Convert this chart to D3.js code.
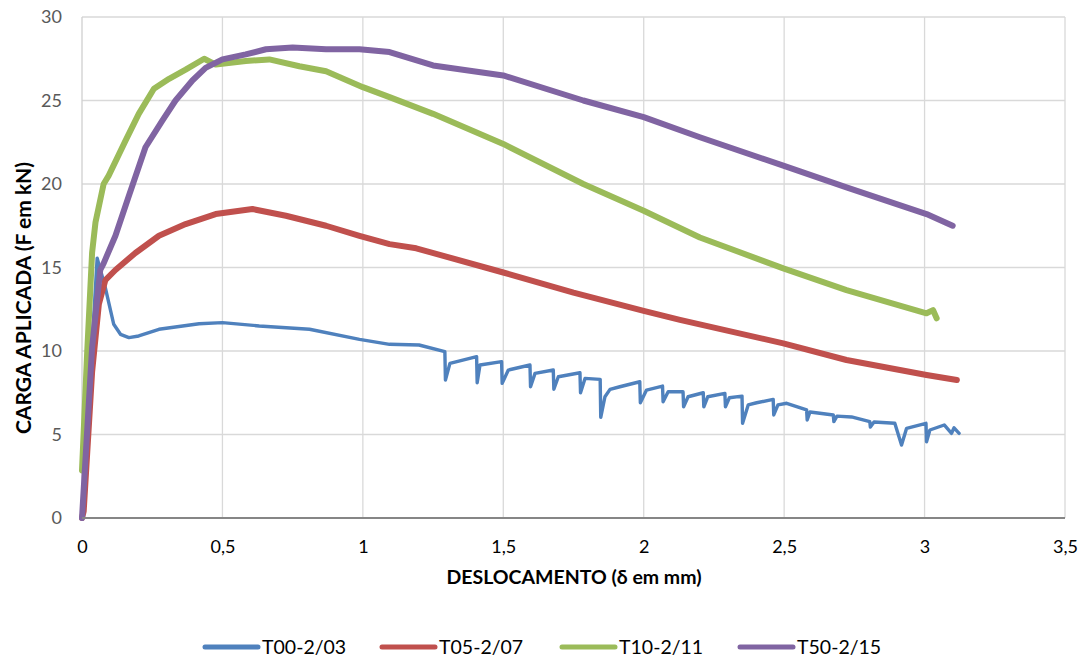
<!DOCTYPE html>
<html>
<head>
<meta charset="utf-8">
<script src="https://cdn.jsdelivr.net/npm/d3@7"></script>
<style>
  html, body { margin: 0; padding: 0; background: #fff; }
  svg { display: block; font-family: Lato, "Open Sans", sans-serif; }
</style>
</head>
<body>
<svg id="chart" width="1083" height="660"></svg>
<script>
// ---- data ----
const seriesNames = ["T00-2/03", "T05-2/07", "T10-2/11", "T50-2/15"];
const seriesColors = ["#4f81bd", "#c0504d", "#9bbb59", "#8064a2"];
const xTicks = [0, 0.5, 1, 1.5, 2, 2.5, 3, 3.5];
const yTicks = [0, 5, 10, 15, 20, 25, 30];
const xTitle = "DESLOCAMENTO (δ em mm)";
const yTitle = "CARGA APLICADA (F em kN)";

// T00-2/03 [deslocamento mm, carga kN]
const t00 = [
  [0,0],[0.054,15.56],[0.083,13.8],[0.113,11.6],[0.137,11.0],[0.167,10.8],[0.202,10.9],
  [0.274,11.3],[0.417,11.63],[0.5,11.7],[0.631,11.5],[0.81,11.3],[0.988,10.7],[1.095,10.4],
  [1.2,10.36],[1.292,9.96],
  [1.294,8.26],[1.31,9.26],[1.405,9.66],
  [1.407,8.1],[1.417,9.16],[1.494,9.36],
  [1.496,8.06],[1.518,8.86],[1.595,9.16],
  [1.597,7.86],[1.613,8.66],[1.678,8.86],
  [1.68,7.71],[1.696,8.46],[1.773,8.7],
  [1.775,7.5],[1.791,8.36],[1.845,8.3],
  [1.847,6.03],[1.862,7.26],[1.88,7.7],[1.915,7.86],[1.986,8.16],
  [1.988,6.9],[2.01,7.66],[2.067,7.9],
  [2.069,6.96],[2.087,7.56],[2.14,7.56],
  [2.142,6.66],[2.158,7.26],[2.212,7.5],
  [2.214,6.66],[2.228,7.26],[2.289,7.46],
  [2.291,6.66],[2.305,7.2],[2.35,7.3],
  [2.352,5.67],[2.372,6.77],[2.402,6.9],[2.461,7.1],
  [2.463,6.17],[2.478,6.77],[2.509,6.87],
  [2.58,6.47],[2.582,5.87],[2.592,6.35],[2.627,6.27],
  [2.675,6.17],[2.677,5.77],[2.688,6.1],[2.74,6.05],
  [2.805,5.77],[2.807,5.45],[2.82,5.75],[2.894,5.67],
  [2.918,4.37],[2.936,5.37],[3.005,5.67],
  [3.007,4.57],[3.019,5.27],[3.07,5.57],[3.096,5.07],[3.105,5.4],[3.123,5.07]
];
// T05-2/07
const t05 = [
  [0,0],[0.006,0.4],[0.036,8.75],[0.06,12.8],[0.083,14.24],[0.119,14.85],[0.19,15.87],
  [0.274,16.9],[0.369,17.6],[0.476,18.2],[0.607,18.5],[0.726,18.1],[0.869,17.5],
  [0.988,16.9],[1.095,16.4],[1.19,16.15],[1.5,14.7],[1.75,13.5],[2.0,12.4],[2.129,11.86],
  [2.497,10.46],[2.722,9.46],[3.007,8.56],[3.115,8.26]
];
// T10-2/11
const t10 = [
  [0,2.85],[0.018,9.76],[0.036,15.9],[0.048,17.7],[0.077,20.0],[0.095,20.5],[0.155,22.6],
  [0.202,24.2],[0.256,25.7],[0.31,26.3],[0.369,26.85],[0.435,27.5],[0.476,27.15],
  [0.583,27.36],[0.667,27.46],[0.774,27.05],[0.869,26.75],[1.0,25.8],[1.095,25.2],
  [1.25,24.2],[1.5,22.4],[1.785,20.0],[2.0,18.4],[2.2,16.8],[2.497,14.95],[2.722,13.65],
  [3.007,12.26],[3.03,12.45],[3.043,11.96]
];
// T50-2/15
const t50 = [
  [0,0],[0.036,10.2],[0.065,14.85],[0.077,15.25],[0.119,16.9],[0.167,19.3],[0.226,22.2],
  [0.286,23.8],[0.333,25.0],[0.393,26.2],[0.44,26.95],[0.5,27.46],[0.583,27.76],
  [0.655,28.07],[0.75,28.17],[0.869,28.07],[0.988,28.07],[1.095,27.9],[1.25,27.1],
  [1.5,26.5],[1.785,25.0],[2.0,24.0],[2.2,22.8],[2.497,21.1],[2.722,19.8],[3.007,18.2],
  [3.10,17.5]
];
const seriesData = [t00, t05, t10, t50];
const seriesWidths = [3.4, 6, 6, 6];

// ---- layout ----
const svg = d3.select("#chart");
const plot = { left: 82, right: 1065, top: 17, bottom: 518 };
const x = d3.scaleLinear().domain([0, 3.5]).range([plot.left, plot.right]);
const y = d3.scaleLinear().domain([0, 30]).range([plot.bottom, plot.top]);
const fmt = d => String(d).replace(".", ",");

// gridlines
svg.append("g").selectAll("line").data(xTicks.slice(1)).join("line")
  .attr("x1", d => x(d)).attr("x2", d => x(d)).attr("y1", plot.top).attr("y2", plot.bottom)
  .attr("stroke", "#d9d9d9").attr("stroke-width", 1.3);
svg.append("g").selectAll("line").data(yTicks.slice(1)).join("line")
  .attr("x1", plot.left).attr("x2", plot.right).attr("y1", d => y(d)).attr("y2", d => y(d))
  .attr("stroke", "#d9d9d9").attr("stroke-width", 1.3);
svg.append("line").attr("x1", plot.left).attr("x2", plot.left).attr("y1", plot.top).attr("y2", plot.bottom)
  .attr("stroke", "#d0d0d0").attr("stroke-width", 1.3);

// axes
const yAxis = svg.append("g").attr("transform", `translate(${plot.left},0)`)
  .call(d3.axisLeft(y).tickValues(yTicks).tickSize(0).tickPadding(20).tickFormat(fmt));
yAxis.select(".domain").remove();
yAxis.selectAll("text").attr("font-size", 18).attr("fill", "#595959").attr("font-family", "Lato, sans-serif");

const xAxis = svg.append("g").attr("transform", `translate(0,${plot.bottom})`)
  .call(d3.axisBottom(x).tickValues(xTicks).tickSize(0).tickPadding(22).tickFormat(fmt));
xAxis.select(".domain").remove();
xAxis.selectAll("text").attr("font-size", 18).attr("fill", "#000").attr("font-family", "Lato, sans-serif");

// series
const line = d3.line().x(d => x(d[0])).y(d => y(d[1])).curve(d3.curveLinear);
seriesData.forEach((s, i) => {
  svg.append("path").datum(s).attr("d", line)
    .attr("fill", "none").attr("stroke", seriesColors[i]).attr("stroke-width", seriesWidths[i])
    .attr("stroke-linejoin", "round").attr("stroke-linecap", "round");
});

svg.append("line").attr("x1", plot.left).attr("x2", plot.right).attr("y1", plot.bottom).attr("y2", plot.bottom)
  .attr("stroke", "#868686").attr("stroke-width", 2);

// titles
svg.append("text").attr("x", 574).attr("y", 584)
  .attr("text-anchor", "middle").attr("font-size", 19.5).attr("font-weight", "bold").text(xTitle);
svg.append("text").attr("transform", `translate(31,298) rotate(-90)`)
  .attr("text-anchor", "middle").attr("font-size", 21).attr("font-weight", "bold").text(yTitle);

// legend
const legendX = [205, 382, 562, 740];
const lg = svg.append("g");
seriesNames.forEach((n, i) => {
  lg.append("line").attr("x1", legendX[i]).attr("x2", legendX[i] + 53).attr("y1", 647).attr("y2", 647)
    .attr("stroke", seriesColors[i]).attr("stroke-width", 5).attr("stroke-linecap", "round");
  lg.append("text").attr("x", legendX[i] + 57).attr("y", 654).attr("font-size", 19.5).text(n);
});
</script>
</body>
</html>
